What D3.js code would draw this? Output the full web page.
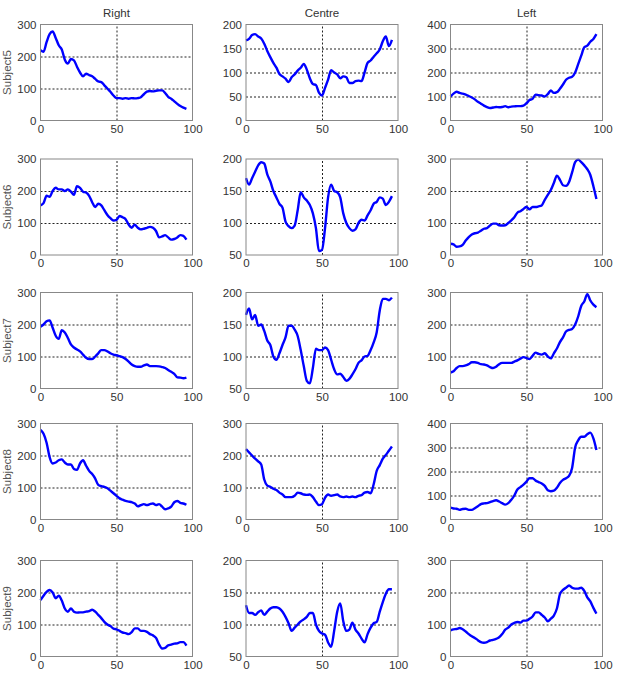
<!DOCTYPE html>
<html>
<head>
<meta charset="utf-8">
<script src="https://cdn.jsdelivr.net/npm/d3@7"></script>
<style>
  body { margin: 0; background: #fff; }
  text { font-family: Arial, "Liberation Sans", sans-serif; }
</style>
</head>
<body>
<div id="chart"></div>
<script>
// Sample positions (x axis), shared by all panels
const xs = d3.range(0, 97, 2);

const subjects = ["Subject5", "Subject6", "Subject7", "Subject8", "Subject9"];
const sides = ["Right", "Centre", "Left"];
const xTicks = [0, 50, 100];

// y tick sets
const ticks300 = [0, 100, 200, 300];
const ticks400 = [0, 100, 200, 300, 400];
const ticks200 = [0, 50, 100, 150, 200];
const ticks50 = [50, 100, 150, 200];

// Subject5
const s5Right = [220,215,245,270,278,258,235,222,190,178,192,188,168,150,138,146,142,138,130,122,120,110,100,90,78,70,70,68,70,68,70,69,70,73,82,90,92,91,93,94,94,86,74,68,60,52,45,40,36];
const s5Centre = [167,170,178,180,175,171,160,145,132,120,110,97,92,87,80,90,96,104,110,118,106,88,76,74,58,52,68,85,105,100,96,88,92,90,78,78,82,83,82,100,120,125,133,140,148,165,175,155,168];
const s5Left = [100,112,120,115,112,108,102,96,88,78,70,62,56,52,54,56,55,56,60,55,58,59,60,60,62,72,85,90,108,105,104,100,110,125,115,118,132,150,170,178,182,200,235,270,305,312,328,340,360];

// Subject6
const s6Right = [155,162,185,182,200,210,205,205,200,205,198,188,215,210,198,195,185,165,150,160,155,140,125,115,108,110,122,118,112,95,85,95,85,80,82,85,88,85,75,55,58,62,55,48,50,55,62,60,48];
const s6Centre = [170,160,170,180,190,195,193,176,165,150,140,130,124,102,95,92,96,120,148,140,135,128,115,92,56,58,92,140,160,150,148,140,115,100,92,88,90,100,105,104,112,120,130,133,140,138,128,133,142];
const s6Left = [35,33,26,27,32,45,56,64,68,70,76,82,84,92,98,98,93,92,93,100,108,118,132,137,144,150,143,150,150,152,155,172,188,203,225,248,235,218,216,228,258,290,298,290,280,268,250,215,175];

// Subject7
const s7Right = [193,200,210,213,190,165,155,182,175,158,138,128,122,116,106,96,92,92,100,110,120,120,116,110,106,104,101,98,92,84,75,70,68,68,72,75,70,70,70,69,67,64,58,52,46,35,34,32,34];
const s7Centre = [165,175,158,165,148,150,140,125,118,100,95,105,118,130,148,148,142,132,110,85,62,58,82,112,110,110,114,110,95,80,72,73,68,62,65,72,80,90,94,100,101,110,122,138,172,190,190,188,192];
const s7Left = [50,54,64,70,70,72,76,82,82,80,76,75,72,67,64,68,76,80,80,80,80,84,88,93,98,95,92,102,112,108,106,110,100,94,110,125,145,160,178,183,186,200,225,258,272,295,275,262,254];

// Subject8
const s8Right = [280,268,240,195,175,178,185,188,178,172,172,158,155,175,185,168,152,142,128,108,104,102,98,90,82,74,66,62,58,56,54,50,41,45,48,45,48,50,45,48,40,32,35,40,54,58,52,50,46];
const s8Centre = [220,210,200,190,182,172,125,106,102,96,92,84,78,70,70,70,74,84,82,78,77,78,70,56,45,48,68,78,74,76,78,72,70,72,70,72,70,74,76,84,86,82,110,152,170,190,202,215,228];
const s8Left = [50,46,45,40,44,45,40,40,47,55,64,67,68,72,77,80,75,68,62,68,82,100,125,135,145,158,172,172,162,156,150,140,122,118,120,132,152,165,172,182,215,300,330,345,345,355,362,338,290];

// Subject9
const s9Right = [176,190,202,208,200,182,190,175,150,140,150,140,137,138,138,140,142,146,140,130,120,108,100,95,87,85,80,75,73,70,76,88,88,80,80,77,70,66,58,38,25,27,35,37,40,41,45,45,34];
const s9Centre = [130,118,118,115,119,122,115,120,125,127,127,125,120,112,102,90,95,100,105,108,112,118,118,100,90,86,84,72,65,90,120,133,105,90,92,103,92,86,78,72,85,95,102,104,120,135,148,155,155];
const s9Left = [82,85,86,89,85,78,70,63,58,51,45,43,45,50,52,55,60,70,84,90,100,105,108,106,112,112,118,125,138,138,130,122,110,118,128,150,195,208,215,222,215,212,212,215,205,185,172,152,134];

// panels: rows = subjects, columns = sides
const series = [
  [s5Right, s5Centre, s5Left],
  [s6Right, s6Centre, s6Left],
  [s7Right, s7Centre, s7Left],
  [s8Right, s8Centre, s8Left],
  [s9Right, s9Centre, s9Left]
];
const yTickSets = [
  [ticks300, ticks200, ticks400],
  [ticks300, ticks50, ticks300],
  [ticks300, ticks50, ticks300],
  [ticks300, ticks300, ticks400],
  [ticks300, ticks50, ticks300]
];

// layout
const W = 618, H = 681;
const colLeft = [40.5, 246, 450.5];
const rowTop = [24.5, 159, 292.5, 423.5, 560.5];
const pw = 152, ph = 96;

const svg = d3.select("#chart").append("svg")
  .attr("width", W).attr("height", H);

series.forEach((row, r) => {
  row.forEach((vals, c) => {
    const ticks = yTickSets[r][c];
    const g = svg.append("g")
      .attr("transform", `translate(${colLeft[c]},${rowTop[r]})`);

    const x = d3.scaleLinear().domain([0, 100]).range([0, pw]);
    const y = d3.scaleLinear().domain(d3.extent(ticks)).range([ph, 0]);

    // dotted grid
    g.append("g")
      .attr("class", "grid")
      .call(d3.axisLeft(y).tickValues(ticks.slice(1, -1)).tickSize(-pw).tickFormat(""))
      .call(a => a.select(".domain").remove());
    g.append("g")
      .attr("class", "grid")
      .attr("transform", `translate(0,${ph})`)
      .call(d3.axisBottom(x).tickValues(xTicks.slice(1, -1)).tickSize(-ph).tickFormat(""))
      .call(a => a.select(".domain").remove());
    g.selectAll(".grid line")
      .attr("stroke", "#222")
      .attr("stroke-width", 1)
      .attr("stroke-dasharray", "2,2");

    // tick labels
    g.append("g")
      .call(d3.axisLeft(y).tickValues(ticks).tickSize(0).tickPadding(4))
      .call(a => a.select(".domain").remove())
      .selectAll("text")
      .attr("font-size", 11.5).attr("fill", "#333");
    g.append("g")
      .attr("transform", `translate(0,${ph})`)
      .call(d3.axisBottom(x).tickValues(xTicks).tickSize(0).tickPadding(4))
      .call(a => a.select(".domain").remove())
      .selectAll("text")
      .attr("font-size", 11.5).attr("fill", "#333");

    // data line
    const line = d3.line()
      .x((d, i) => x(xs[i]))
      .y(d => y(d))
      .curve(d3.curveMonotoneX);
    g.append("path")
      .datum(vals)
      .attr("fill", "none")
      .attr("stroke", "#0000ff")
      .attr("stroke-width", 2.4)
      .attr("stroke-linejoin", "round")
      .attr("d", line);

    // box
    g.append("rect")
      .attr("width", pw).attr("height", ph)
      .attr("fill", "none")
      .attr("stroke", "#888")
      .attr("stroke-width", 1);

    if (r === 0) {
      g.append("text")
        .attr("x", pw / 2).attr("y", -8)
        .attr("text-anchor", "middle")
        .attr("font-size", 11.5).attr("fill", "#333")
        .text(sides[c]);
    }
    if (c === 0) {
      g.append("text")
        .attr("transform", `translate(${-30},${ph / 2}) rotate(-90)`)
        .attr("text-anchor", "middle")
        .attr("font-size", 11.5).attr("fill", "#555")
        .text(subjects[r]);
    }
  });
});
</script>
</body>
</html>
